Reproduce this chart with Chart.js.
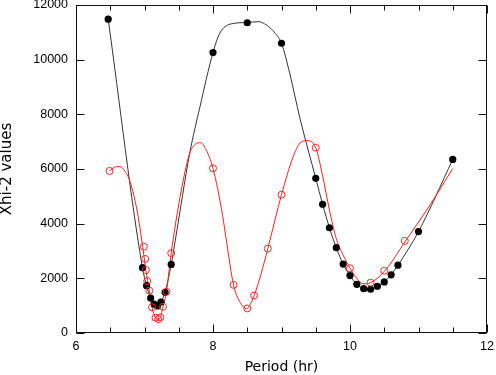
<!DOCTYPE html>
<html><head><meta charset="utf-8">
<script src="https://cdn.jsdelivr.net/npm/chart.js@4/dist/chart.umd.min.js"></script>
<style>html,body{margin:0;padding:0;background:#fff}canvas{display:block}</style>
</head><body>
<canvas id="c" width="496" height="375"></canvas>
<script>
// Measured points (black filled)
const blackX = [6.47, 6.97, 7.03, 7.09, 7.14, 7.19, 7.24, 7.30, 7.39, 8.0, 8.5, 9.0, 9.5, 9.6, 9.7, 9.8, 9.9, 10.0, 10.1, 10.2, 10.3, 10.4, 10.5, 10.6, 10.7, 11.0, 11.5];
const blackY = [11480, 2390, 1730, 1280, 1060, 990, 1130, 1490, 2510, 10260, 11350, 10600, 5660, 4710, 3850, 3120, 2520, 2100, 1780, 1620, 1600, 1710, 1870, 2130, 2480, 3710, 6350];
// Measured points (red open)
const redX = [6.49, 6.99, 7.01, 7.02, 7.04, 7.07, 7.11, 7.16, 7.20, 7.23, 7.27, 7.32, 7.39, 8.0, 8.3, 8.5, 8.6, 8.8, 9.0, 9.5, 10.0, 10.3, 10.5, 10.8];
const redY = [5930, 3160, 2710, 2300, 1900, 1550, 940, 560, 510, 570, 960, 1510, 2920, 6025, 1760, 900, 1370, 3090, 5060, 6780, 2370, 1840, 2280, 3370];
// Fitted curves
const blackCurveX = [6.47, 6.97, 7.03, 7.09, 7.14, 7.19, 7.24, 7.30, 7.39, 7.45, 7.66, 7.81, 8.0, 8.1, 8.25, 8.5, 8.66, 8.78, 8.91, 9.0, 9.12, 9.27, 9.5, 9.6, 9.7, 9.8, 9.9, 10.0, 10.1, 10.2, 10.3, 10.4, 10.5, 10.6, 10.7, 11.0, 11.5];
const blackCurveY = [11480, 2390, 1730, 1280, 1060, 990, 1130, 1490, 2510, 3400, 6575, 8280, 10260, 10970, 11300, 11360, 11390, 11270, 10960, 10600, 9500, 7850, 5660, 4710, 3850, 3120, 2520, 2100, 1780, 1620, 1600, 1710, 1870, 2130, 2480, 3710, 6350];
const redCurveX = [6.49, 6.56, 6.64, 6.72, 6.79, 6.89, 6.96, 7.02, 7.07, 7.11, 7.16, 7.20, 7.23, 7.27, 7.32, 7.39, 7.52, 7.66, 7.74, 7.82, 7.90, 8.0, 8.14, 8.2, 8.3, 8.39, 8.49, 8.6, 8.7, 8.8, 9.0, 9.17, 9.27, 9.37, 9.5, 9.6, 9.7, 9.8, 9.9, 10.0, 10.1, 10.19, 10.3, 10.51, 10.81, 11.12, 11.5];
const redCurveY = [5930, 6060, 6090, 5900, 5535, 4500, 3400, 2300, 1550, 940, 560, 480, 570, 960, 1510, 2920, 4990, 6575, 6900, 6965, 6700, 6025, 4300, 3300, 1756, 1145, 890, 1370, 2150, 3085, 5060, 6450, 6950, 7035, 6780, 5750, 4500, 3450, 2850, 2370, 2000, 1800, 1840, 2280, 3366, 4500, 6012];
// Axis ticks
const xTickLabels = [6, 8, 10, 12];
const xMinorTicks = [6.5, 7, 7.5, 8.5, 9, 9.5, 10.5, 11, 11.5];
const yTickLabels = [0, 2000, 4000, 6000, 8000, 10000, 12000];

const pts = (xs, ys) => xs.map((x, i) => ({x: x, y: ys[i]}));

const framePlugin = {
  id: 'frame',
  beforeDatasetsDraw(chart) {
    const {ctx, chartArea: a, scales: {x, y}} = chart;
    ctx.save();
    ctx.strokeStyle = '#111';
    ctx.lineWidth = 1;
    const L = Math.round(a.left) + 0.5, R = Math.round(a.right) - 0.5;
    const T = Math.round(a.top) + 0.5, B = Math.round(a.bottom) - 0.5;
    ctx.strokeRect(L, T, R - L, B - T);
    ctx.beginPath();
    const xt = (v, len) => {
      const p = Math.round(x.getPixelForValue(v)) + 0.5;
      ctx.moveTo(p, B); ctx.lineTo(p, B - len);
      ctx.moveTo(p, T); ctx.lineTo(p, T + len);
    };
    xTickLabels.forEach(v => xt(v, 8));
    xMinorTicks.forEach(v => xt(v, 5));
    yTickLabels.forEach(v => {
      const p = Math.round(y.getPixelForValue(v)) + 0.5;
      ctx.moveTo(L, p); ctx.lineTo(L + 8, p);
      ctx.moveTo(R, p); ctx.lineTo(R - 8, p);
    });
    ctx.stroke();
    ctx.restore();
  }
};

new Chart(document.getElementById('c'), {
  type: 'scatter',
  data: {
    datasets: [
      {data: pts(blackCurveX, blackCurveY), showLine: true, borderColor: '#333', borderWidth: 1, pointRadius: 0, cubicInterpolationMode: 'monotone', order: 4},
      {data: pts(redCurveX, redCurveY), showLine: true, borderColor: 'rgb(255,30,30)', borderWidth: 1, pointRadius: 0, cubicInterpolationMode: 'monotone', order: 3},
      {data: pts(blackX, blackY), showLine: false, pointRadius: 3.6, pointBackgroundColor: '#000', pointBorderColor: '#000', pointBorderWidth: 0, order: 2},
      {data: pts(redX, redY), showLine: false, pointRadius: 3.5, pointBackgroundColor: 'rgba(0,0,0,0)', pointBorderColor: 'rgb(255,40,40)', pointBorderWidth: 1, order: 1}
    ]
  },
  options: {
    responsive: false,
    animation: false,
    devicePixelRatio: 1,
    layout: {padding: {left: 0, right: 9, top: 5, bottom: 0}},
    plugins: {legend: {display: false}, tooltip: {enabled: false}},
    scales: {
      x: {
        type: 'linear', min: 6, max: 12,
        afterBuildTicks: s => { s.ticks = xTickLabels.map(v => ({value: v})); },
        ticks: {callback: v => String(v), color: '#000', padding: 7, maxRotation: 0, font: {family: 'Liberation Sans', size: 12.5, lineHeight: 1}},
        grid: {display: false, drawTicks: false},
        border: {display: false},
        title: {display: true, text: 'Period (hr)', color: '#000', font: {family: 'DejaVu Sans', size: 14, lineHeight: 1}, padding: {top: 0, bottom: 1}},
        afterFit: s => { s.height = 42; s.paddingLeft = 0; s.paddingRight = 0; }
      },
      y: {
        type: 'linear', min: 0, max: 12000,
        afterBuildTicks: s => { s.ticks = yTickLabels.map(v => ({value: v})); },
        ticks: {callback: v => String(v), color: '#000', padding: 8, font: {family: 'Liberation Sans', size: 12.5, lineHeight: 1}},
        grid: {display: false, drawTicks: false},
        border: {display: false},
        title: {display: true, text: 'Xhi-2 values', color: '#000', font: {family: 'DejaVu Sans', size: 15, lineHeight: 1}, padding: {top: 0, bottom: 0}},
        afterFit: s => { s.width = 76; s.paddingTop = 0; s.paddingBottom = 0; }
      }
    }
  },
  plugins: [framePlugin]
});
</script>
</body></html>
